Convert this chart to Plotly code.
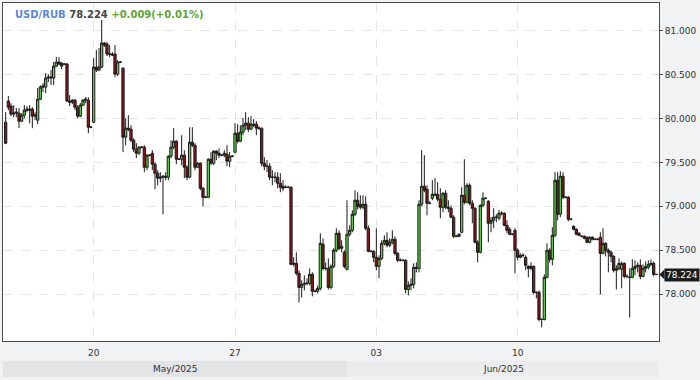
import plotly.graph_objects as go

opens = [79.957,80.197,80.140,80.049,80.060,80.060,79.969,80.037,80.094,80.106,
80.106,80.026,79.980,80.219,80.356,80.356,80.459,80.459,80.459,80.595,
80.641,80.629,80.618,80.618,80.197,80.185,80.208,80.128,80.026,80.151,
80.208,80.208,79.900,79.957,80.584,80.550,80.584,80.857,80.846,80.732,
80.732,80.732,80.504,80.641,80.572,79.787,79.889,79.878,79.752,79.650,
79.604,79.673,79.673,79.445,79.582,79.604,79.479,79.377,79.320,79.331,
79.342,79.331,79.570,79.673,79.741,79.536,79.536,79.582,79.445,79.331,
79.730,79.695,79.445,79.490,79.206,79.103,79.103,79.536,79.490,79.627,
79.604,79.582,79.582,79.593,79.513,79.570,79.616,79.832,79.741,79.844,
79.923,79.946,79.878,79.935,79.935,79.889,79.889,79.490,79.456,79.456,
79.331,79.331,79.331,79.263,79.228,79.217,79.217,79.217,78.340,78.351,
78.238,78.078,78.112,78.124,78.124,78.226,78.033,78.033,78.067,78.568,
78.294,78.294,78.078,78.317,78.500,78.693,78.522,78.477,78.283,78.682,
78.727,78.910,79.069,79.023,78.989,79.023,78.750,78.488,78.488,78.420,
78.317,78.408,78.579,78.613,78.557,78.591,78.625,78.465,78.386,78.386,
78.386,78.055,78.101,78.112,78.306,78.294,79.023,79.228,79.194,79.035,
79.092,79.126,79.137,79.081,78.989,79.149,78.989,78.978,78.876,78.659,
78.659,78.705,79.126,79.046,79.240,79.035,78.978,78.591,78.477,79.012,
79.092,79.058,78.807,78.841,78.876,78.864,78.921,78.921,78.784,78.739,
78.682,78.727,78.500,78.420,78.443,78.420,78.317,78.294,78.317,78.021,
78.021,77.713,77.713,78.192,78.500,78.397,78.670,79.297,78.910,79.342,
79.103,79.103,78.853,78.773,78.739,78.693,78.659,78.659,78.648,78.591,
78.648,78.625,78.625,78.648,78.465,78.579,78.500,78.477,78.431,78.272,
78.294,78.283,78.351,78.203,78.192,78.192,78.294,78.317,78.329,78.203,
78.294,78.306,78.340,78.351,78.226]

closes = [79.718,80.128,80.049,80.060,80.071,79.969,80.037,80.094,80.106,80.094,
80.026,80.037,80.219,80.356,80.367,80.459,80.470,80.470,80.595,80.641,
80.618,80.595,80.618,80.197,80.185,80.208,80.128,80.026,80.151,80.208,
80.219,79.900,79.900,80.584,80.550,80.584,80.857,80.834,80.732,80.732,
80.721,80.504,80.641,80.641,79.787,79.889,79.878,79.752,79.650,79.604,
79.673,79.673,79.445,79.582,79.582,79.479,79.377,79.320,79.331,79.342,
79.331,79.570,79.673,79.741,79.536,79.536,79.582,79.445,79.331,79.730,
79.695,79.445,79.490,79.206,79.103,79.103,79.536,79.490,79.627,79.604,
79.582,79.582,79.604,79.513,79.570,79.570,79.832,79.741,79.844,79.923,
79.946,79.878,79.935,79.923,79.889,79.889,79.490,79.456,79.456,79.331,
79.331,79.331,79.263,79.217,79.206,79.217,79.217,78.340,78.351,78.238,
78.078,78.112,78.124,78.124,78.226,78.033,78.033,78.067,78.579,78.294,
78.294,78.078,78.317,78.500,78.693,78.522,78.545,78.317,78.682,78.727,
78.910,79.069,79.001,78.989,79.023,78.750,78.488,78.488,78.420,78.317,
78.408,78.579,78.613,78.557,78.591,78.625,78.465,78.386,78.386,78.386,
78.055,78.101,78.112,78.306,78.294,79.023,79.228,79.183,79.035,79.035,
79.137,79.137,79.081,78.989,79.149,78.989,78.978,78.876,78.659,78.659,
78.682,79.126,79.046,79.240,79.035,78.978,78.591,78.477,79.012,79.092,
79.092,78.807,78.841,78.876,78.876,78.921,78.921,78.784,78.727,78.682,
78.682,78.500,78.420,78.443,78.443,78.329,78.294,78.317,78.021,78.021,
77.713,77.713,78.192,78.500,78.397,78.670,79.297,78.910,79.342,79.103,
79.103,78.853,78.853,78.739,78.682,78.670,78.659,78.636,78.591,78.648,
78.625,78.625,78.625,78.465,78.579,78.500,78.477,78.431,78.272,78.294,
78.351,78.351,78.203,78.203,78.192,78.294,78.317,78.329,78.203,78.294,
78.317,78.340,78.351,78.226,78.224]

highs = [80.071,80.254,80.174,80.151,80.117,80.117,80.060,80.151,80.140,80.151,
80.128,80.071,80.345,80.379,80.402,80.516,80.504,80.550,80.641,80.698,
80.698,80.641,80.629,80.629,80.265,80.219,80.219,80.151,80.174,80.219,
80.242,80.242,79.912,80.686,80.778,80.800,81.119,80.869,80.869,80.834,
80.755,80.834,80.664,80.652,80.580,80.003,80.037,79.923,79.775,79.718,
79.684,79.684,79.695,79.593,79.593,79.639,79.502,79.411,79.388,79.354,
79.388,79.582,79.752,79.889,79.752,79.547,79.809,79.639,79.468,79.900,
79.900,79.718,79.502,79.502,79.217,79.115,79.547,79.616,79.639,79.639,
79.661,79.593,79.639,79.695,79.616,79.582,79.946,79.935,79.923,80.003,
80.071,80.014,80.026,79.992,79.969,79.912,79.895,79.559,79.525,79.490,
79.411,79.388,79.388,79.377,79.297,79.240,79.228,79.225,78.420,78.477,
78.272,78.158,78.215,78.181,78.294,78.249,78.055,78.101,78.693,78.636,
78.363,78.408,78.340,78.522,78.750,78.727,78.613,78.500,79.069,78.784,
78.955,79.183,79.160,79.126,79.126,79.115,78.784,78.500,78.500,78.750,
78.443,78.613,78.670,78.705,78.636,78.727,78.659,78.477,78.408,78.397,
78.397,78.147,78.181,78.351,78.363,79.069,79.639,79.582,79.240,79.058,
79.297,79.320,79.274,79.206,79.160,79.183,79.069,79.012,78.898,78.670,
78.693,79.217,79.536,79.263,79.263,79.069,78.989,78.613,79.023,79.160,
79.103,79.069,78.876,78.978,78.910,78.955,78.944,78.932,78.841,78.762,
78.693,78.750,78.522,78.465,78.465,78.443,78.329,78.363,78.329,78.033,
78.044,77.725,78.226,78.579,78.522,78.762,79.388,79.388,79.399,79.388,
79.115,79.115,78.864,78.784,78.750,78.705,78.670,78.670,78.659,78.659,
78.659,78.636,78.636,78.705,78.750,78.591,78.522,78.500,78.443,78.329,
78.408,78.374,78.363,78.226,78.294,78.397,78.386,78.363,78.397,78.340,
78.374,78.386,78.397,78.374,78.232]

lows = [79.707,80.094,80.026,80.014,80.014,79.889,79.957,80.003,80.071,79.946,
79.889,79.980,79.935,80.208,80.299,80.288,80.413,80.379,80.379,80.584,
80.607,80.561,80.607,80.185,80.140,80.162,80.094,80.003,80.014,80.140,
80.174,79.832,79.889,79.946,80.527,80.538,80.572,80.812,80.709,80.698,
80.709,80.470,80.481,80.629,79.616,79.695,79.855,79.730,79.616,79.547,
79.582,79.661,79.388,79.411,79.570,79.411,79.194,79.240,79.274,78.910,
79.297,79.297,79.547,79.650,79.479,79.525,79.468,79.320,79.297,79.320,
79.673,79.411,79.434,79.183,79.001,79.092,79.092,79.468,79.468,79.525,
79.547,79.570,79.559,79.456,79.445,79.559,79.604,79.718,79.730,79.809,
79.866,79.844,79.866,79.900,79.809,79.866,79.456,79.411,79.388,79.297,
79.240,79.274,79.206,79.160,79.172,79.206,79.206,78.329,78.317,78.215,
77.907,77.964,78.044,78.101,78.101,77.976,78.021,78.010,78.044,78.272,
78.272,78.055,78.055,78.294,78.477,78.500,78.477,78.294,78.272,78.659,
78.705,78.887,78.966,78.966,78.966,78.727,78.477,78.477,78.363,78.272,
78.181,78.386,78.557,78.534,78.534,78.568,78.443,78.363,78.374,78.374,
78.010,77.987,78.044,78.067,78.249,78.249,79.001,79.160,78.898,79.023,
79.069,79.115,79.058,78.864,78.932,78.966,78.932,78.864,78.636,78.648,
78.648,78.693,79.023,79.035,79.012,78.807,78.579,78.363,78.465,78.989,
79.081,78.591,78.705,78.750,78.818,78.841,78.898,78.773,78.693,78.670,
78.670,78.238,78.386,78.408,78.420,78.272,78.192,78.272,77.998,77.953,
77.691,77.623,77.702,78.181,78.363,78.329,78.648,78.841,78.876,79.081,
79.092,78.830,78.841,78.727,78.670,78.659,78.648,78.625,78.579,78.579,
78.613,78.613,78.613,77.998,78.454,78.431,78.249,78.363,78.249,78.055,
78.272,78.067,78.181,78.181,77.736,78.181,78.215,78.249,78.170,78.192,
78.249,78.283,78.317,78.203,78.220]

symbol = "USD/RUB"
change = 0.009
change_pct = 0.01
tick_idx = [33, 86, 139, 192]
tick_text = ["20", "27", "03", "10"]
y_ticks = [78.0, 78.5, 79.0, 79.5, 80.0, 80.5, 81.0]
month_labels = ["May/2025", "Jun/2025"]
month_start_idx = [0, 128]

x_idx = list(range(len(closes)))
x_range = [-1.0, 245.0]
y_range = [77.468, 81.313]

W, H = 700, 380
ml, mr, mt, mb = 3, 41, 3, 39
plot_h = H - mt - mb
plot_w = W - ml - mr

fig = go.Figure(go.Candlestick(
    x=x_idx, open=opens, high=highs, low=lows, close=closes,
    increasing=dict(line=dict(color="#1a1a1a", width=1), fillcolor="#58d63a"),
    decreasing=dict(line=dict(color="#1a1a1a", width=1), fillcolor="#8e1414"),
    whiskerwidth=0, hoverinfo="skip", showlegend=False,
))

def px_x(i):
    return (i - x_range[0]) / (x_range[1] - x_range[0])

shapes = []
annotations = []
bounds = [px_x(x_range[0])] + [px_x(s) for s in month_start_idx[1:]] + [1.0]
strip_colors = ["#e3e4e6", "#ebecee"]
y0s, y1s = -20 / plot_h, -36 / plot_h
for k, lab in enumerate(month_labels):
    shapes.append(dict(type="rect", xref="paper", yref="paper",
                       x0=bounds[k], x1=bounds[k + 1], y0=y1s, y1=y0s,
                       fillcolor=strip_colors[k], line=dict(width=0), layer="below"))
    annotations.append(dict(xref="paper", yref="paper", x=(bounds[k] + bounds[k + 1]) / 2,
                            y=(y0s + y1s) / 2, text=lab, showarrow=False,
                            font=dict(family="DejaVu Sans", size=9, color="#333"),
                            xanchor="center", yanchor="middle"))

last = closes[-1]
yp = (last - y_range[0]) / (y_range[1] - y_range[0])
hh = 5 / plot_h
shapes.append(dict(type="path", xref="paper", yref="paper",
                   path=f"M 1.0005,{yp} L {1 + 5.5 / plot_w},{yp + hh} L {1 + 5.5 / plot_w},{yp - hh} Z",
                   fillcolor="#1c1c1c", line=dict(width=0)))
annotations.append(dict(xref="paper", yref="y", x=1, y=last, xanchor="left", xshift=5,
                        text=f"{last:.3f}", showarrow=False, bgcolor="#1c1c1c", borderpad=1,
                        font=dict(family="DejaVu Sans", size=9, color="white")))

title = (f"<b><span style='color:#5b88d8'>{symbol}</span> "
         f"<span style='color:#444444'>{last:.3f}</span> "
         f"<span style='color:#5ea530'>+{change:.3f}(+{change_pct:.2f}%)</span></b>")
annotations.append(dict(xref="paper", yref="paper", x=9.5 / plot_w, y=(plot_h - 11) / plot_h,
                        text=title, showarrow=False, xanchor="left", yanchor="middle",
                        font=dict(family="DejaVu Sans", size=10)))

fig.update_layout(
    width=W, height=H, margin=dict(l=ml, r=mr, t=mt, b=mb, autoexpand=False),
    paper_bgcolor="#f1f2f4", plot_bgcolor="#ffffff",
    boxgap=0.15, boxgroupgap=0,
    shapes=shapes, annotations=annotations,
    xaxis=dict(range=x_range, rangeslider=dict(visible=False), tickmode="array",
               tickvals=tick_idx, ticktext=tick_text, showgrid=True, gridcolor="#e4e4e4",
               griddash="dash", gridwidth=1, zeroline=False, showline=True, linecolor="#4a4a4a",
               linewidth=1, mirror=True, ticks="", automargin=False, ticklabelstandoff=3,
               tickfont=dict(family="DejaVu Sans", size=9, color="#333")),
    yaxis=dict(range=y_range, side="right", tickmode="array", tickvals=y_ticks,
               tickformat=".3f", showgrid=True, gridcolor="#e4e4e4", griddash="dash",
               gridwidth=1, zeroline=False, showline=True, linecolor="#4a4a4a", linewidth=1,
               mirror=True, ticks="outside", ticklen=3, tickcolor="#4a4a4a", automargin=False,
               tickfont=dict(family="DejaVu Sans", size=9, color="#333")),
    font=dict(family="DejaVu Sans"),
)

fig.write_html("out.html", config={"displayModeBar": False},
               post_script="document.body.style.margin='0';")
